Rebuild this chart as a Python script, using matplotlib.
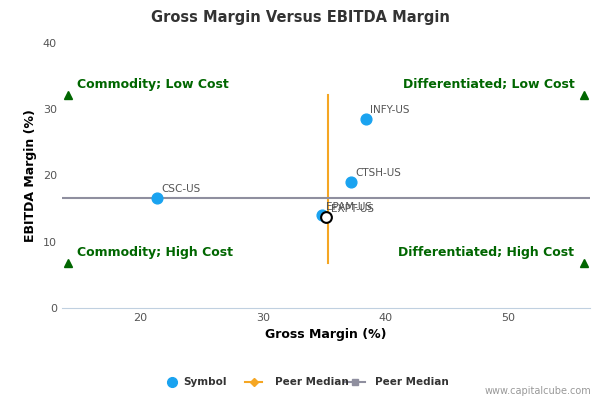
import matplotlib.pyplot as plt

# data
symbols = ['CSC-US', 'EPAM-US', 'EXPT-US', 'CTSH-US', 'INFY-US']
gross_margin = [21.4, 34.8, 35.2, 37.2, 38.4]
ebitda_margin = [16.6, 14.0, 13.7, 19.0, 28.5]
highlight = 'EXPT-US'
median_x = 35.3
median_y = 16.6
corner_x = [14.1, 56.2]
corner_y = [6.8, 32.2]
quadrant_labels = ['Commodity; Low Cost', 'Differentiated; Low Cost',
                   'Commodity; High Cost', 'Differentiated; High Cost']

fig = plt.figure(figsize=(6, 4), dpi=100)
ax = fig.add_axes([0.103, 0.23, 0.88, 0.663])
ax.set_xlim(13.6, 56.7)
ax.set_ylim(0, 40)

ax.plot([median_x, median_x], [corner_y[0], corner_y[1]], color='#f5a623', lw=1.5, zorder=2)
ax.plot([13.6, 56.7], [median_y, median_y], color='#8f8f9f', lw=1.5, zorder=2)

for s, x, y in zip(symbols, gross_margin, ebitda_margin):
    if s == highlight:
        ax.scatter(x, y, s=60, facecolor='white', edgecolor='black', lw=1.5, zorder=4)
    else:
        ax.scatter(x, y, s=60, color='#1aa3f0', zorder=3)
    ax.annotate(s, (x, y), xytext=(3, 4), textcoords='offset points',
                fontsize=7.5, color='#555555')

green = '#006600'
pos = [(corner_x[0], corner_y[1], 'left'), (corner_x[1], corner_y[1], 'right'),
       (corner_x[0], corner_y[0], 'left'), (corner_x[1], corner_y[0], 'right')]
for (x, y, ha), lab in zip(pos, quadrant_labels):
    ax.plot(x, y, marker='^', color=green, ms=6, clip_on=False, zorder=5)
    dx = 0.25 if ha == 'left' else -0.25
    ax.text(x + 3 * dx, y + 0.6, lab, ha=ha, va='bottom', color=green,
            fontsize=9, fontweight='bold')

ax.set_xticks([20, 30, 40, 50])
ax.set_yticks([0, 10, 20, 30, 40])
ax.tick_params(labelsize=8, colors='#555555', length=0)
for sp in ['top', 'right', 'left']:
    ax.spines[sp].set_visible(False)
ax.spines['bottom'].set_color('#c0d0e0')
ax.set_xlabel('Gross Margin (%)', fontsize=9, fontweight='bold')
ax.set_ylabel('EBITDA Margin (%)', fontsize=9, fontweight='bold')
fig.suptitle('Gross Margin Versus EBITDA Margin', y=0.975, fontsize=10.5,
             fontweight='bold', color='#333333')

# legend
ly = 0.045
fig.lines.append(plt.Line2D([0.287], [ly], marker='o', color='#1aa3f0', ms=7,
                            transform=fig.transFigure))
fig.text(0.305, ly, 'Symbol', fontsize=7.5, fontweight='bold', va='center', color='#333333')
fig.lines.append(plt.Line2D([0.408, 0.437], [ly, ly], color='#f5a623', lw=1.5,
                            transform=fig.transFigure))
fig.lines.append(plt.Line2D([0.4225], [ly], marker='D', color='#f5a623', ms=4,
                            transform=fig.transFigure))
fig.text(0.458, ly, 'Peer Median', fontsize=7.5, fontweight='bold', va='center', color='#333333')
fig.lines.append(plt.Line2D([0.575, 0.608], [ly, ly], color='#8f8f9f', lw=1.5,
                            transform=fig.transFigure))
fig.lines.append(plt.Line2D([0.5915], [ly], marker='s', color='#8f8f9f', ms=5,
                            transform=fig.transFigure))
fig.text(0.625, ly, 'Peer Median', fontsize=7.5, fontweight='bold', va='center', color='#333333')
fig.text(0.985, 0.015, 'www.capitalcube.com', fontsize=7, ha='right', color='#999999')

fig.savefig('out.png', dpi=100)
